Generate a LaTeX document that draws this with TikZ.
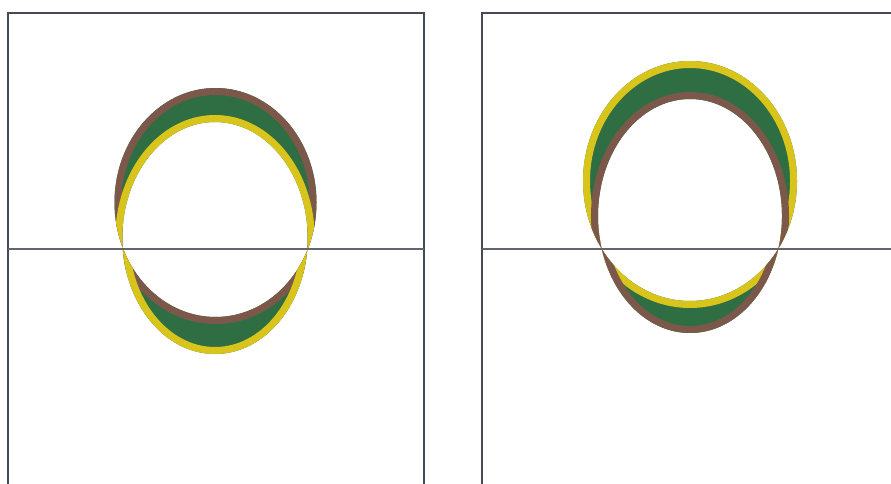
\documentclass[tikz,border=0pt]{standalone}
\usepackage{xcolor}
\definecolor{ringbrown}{RGB}{124,88,74}
\definecolor{ringgreen}{RGB}{46,110,66}
\definecolor{ringyellow}{RGB}{216,196,26}
\definecolor{framegray}{RGB}{70,74,84}

\begin{document}
\begin{tikzpicture}[x=0.02cm, y=-0.02cm,
  frame/.style={draw=framegray, line width=0.8pt},
  axisline/.style={draw=framegray!85, line width=0.6pt},
  band/.style={line width=0.28cm}]

  \useasboundingbox (0,0) rectangle (891,483);

  %--- Left panel: brown ellipse high, yellow ellipse low ---
  \draw[frame] (8,495) -- (8,13) -- (424,13) -- (424,495);
  \begin{scope}[even odd rule]
    \clip (215.5,202.5) ellipse [x radius=101, y radius=114.5]
          (215,238) ellipse [x radius=92.7, y radius=116];
    \fill[ringgreen] (100,60) rectangle (330,380);
    \draw[band, ringbrown] (215.5,202.5) ellipse [x radius=101, y radius=114.5];
    \draw[band, ringyellow] (215,238) ellipse [x radius=92.7, y radius=116];
  \end{scope}
  \draw[axisline] (8,249) -- (424,249);

  %--- Right panel: yellow ellipse high, brown ellipse low ---
  \draw[frame] (482,495) -- (482,13) -- (895,13);
  \begin{scope}[even odd rule]
    \clip (690,181) ellipse [x radius=107, y radius=120]
          (690,216) ellipse [x radius=92, y radius=117];
    \fill[ringgreen] (560,40) rectangle (820,360);
    \draw[band, ringyellow] (690,181) ellipse [x radius=107, y radius=120];
    \draw[band, ringbrown] (690,216) ellipse [x radius=92, y radius=117];
  \end{scope}
  \draw[axisline] (482,249) -- (895,249);

\end{tikzpicture}
\end{document}
